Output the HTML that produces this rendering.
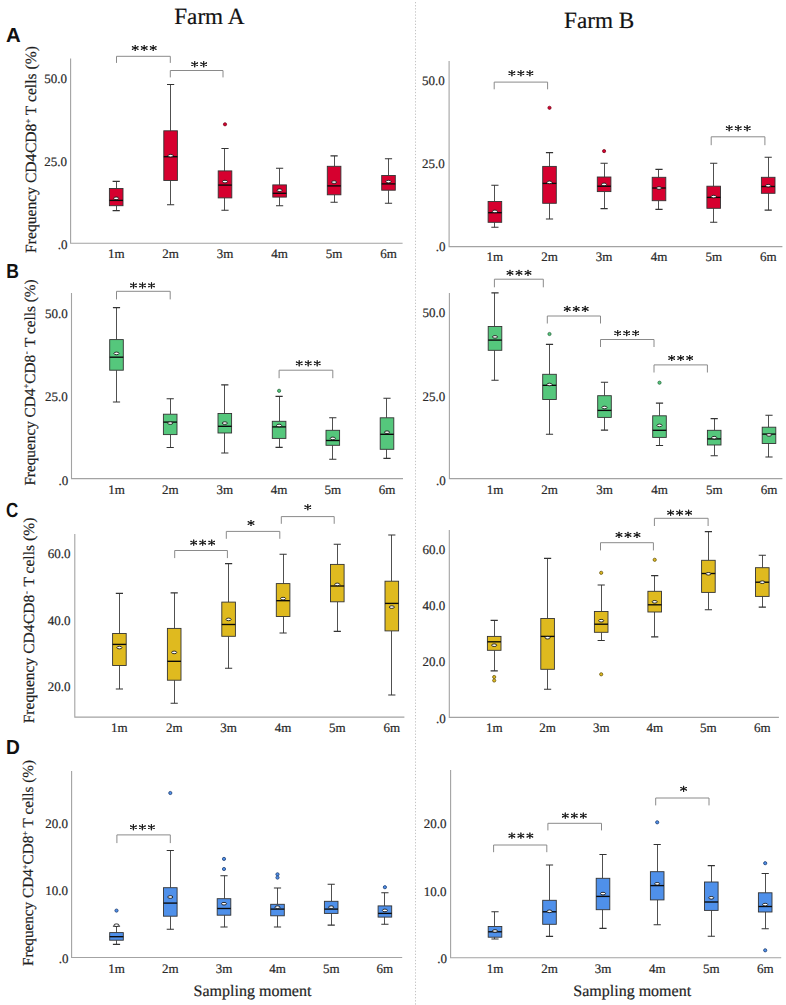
<!DOCTYPE html>
<html><head><meta charset="utf-8"><title>Figure</title>
<style>
html,body{margin:0;padding:0;background:#fff;}
body{width:786px;height:1005px;overflow:hidden;}
svg{display:block;}
text{font-family:"Liberation Serif", serif;fill:#222;stroke:#222;stroke-width:0.2px;text-rendering:geometricPrecision;}
.ax{fill:none;stroke:#a3a3a3;stroke-width:1.1;}
.tk{font-size:13px;text-anchor:end;fill:#2a2a2a;}
.xl{font-size:13px;text-anchor:middle;fill:#2a2a2a;}
.wh{fill:none;stroke:#505050;stroke-width:1;}
.cp{fill:none;stroke:#333;stroke-width:1.1;}
.bx{stroke:#333;stroke-width:0.9;}
.md{stroke:#0a0a0a;stroke-width:1.35;}
.mn{fill:#fff;stroke:#111;stroke-width:0.85;}
.br{fill:none;stroke:#8a8a8a;stroke-width:1;stroke-linejoin:round;}
.st{fill:none;stroke:#1a1a1a;stroke-width:1.1;stroke-linecap:round;}
.sd{fill:#1a1a1a;}
.ti{font-size:23.2px;text-anchor:middle;fill:#111;}
.lt{font-family:"Liberation Sans", sans-serif;font-weight:bold;font-size:20.4px;fill:#111;stroke:none;}
.yl{font-size:15.8px;fill:#1e1e1e;}
.sup{font-size:8.5px;}
.supz{font-size:6.5px;}
.sm{font-size:16px;text-anchor:middle;fill:#1e1e1e;}
.dv{stroke:#c4c4c4;stroke-width:1;stroke-dasharray:1.3 1.8;}
</style></head>
<body><svg width="786" height="1005" viewBox="0 0 786 1005">
<line x1="415.5" y1="2" x2="415.5" y2="1005" class="dv"/>
<text x="209.3" y="23.9" class="ti">Farm A</text>
<text x="599.2" y="27.7" class="ti">Farm B</text>
<text transform="translate(6 41.5) scale(1 1)" class="lt">A</text>
<text transform="translate(6.2 278.4) scale(0.86 1)" class="lt">B</text>
<text transform="translate(5.9 517) scale(0.83 1)" class="lt">C</text>
<text transform="translate(6.1 754.4) scale(0.94 1)" class="lt">D</text>
<text transform="translate(35.9 252.9) rotate(-90)" class="yl" style="font-size:15.6px" textLength="206.9" lengthAdjust="spacing">Frequency CD4<tspan class="supz" dy="-3.4" dx="-0.5">-</tspan><tspan dy="3.4" dx="-1.2">CD8</tspan><tspan class="sup" dy="-5.2">+</tspan><tspan dy="5.2"> T cells (%)</tspan></text>
<text transform="translate(34.5 485.6) rotate(-90)" class="yl" style="font-size:15.25px" textLength="206.2" lengthAdjust="spacing">Frequency CD4<tspan class="sup" dy="-5.2">+</tspan><tspan dy="5.2">CD8</tspan><tspan class="sup" dy="-5.2" dx="0.8">-</tspan><tspan dy="5.2" dx="0.8"> T cells (%)</tspan></text>
<text transform="translate(33.8 723.3) rotate(-90)" class="yl" style="font-size:15.45px" textLength="205.6" lengthAdjust="spacing">Frequency CD4<tspan class="supz" dy="-3.4" dx="-0.5">-</tspan><tspan dy="3.4" dx="-1.2">CD8</tspan><tspan class="sup" dy="-5.2" dx="0.8">-</tspan><tspan dy="5.2" dx="0.8"> T cells (%)</tspan></text>
<text transform="translate(32.7 966) rotate(-90)" class="yl" style="font-size:15.2px" textLength="206" lengthAdjust="spacing">Frequency CD4<tspan class="sup" dy="-5.2">+</tspan><tspan dy="5.2">CD8</tspan><tspan class="sup" dy="-5.2">+</tspan><tspan dy="5.2"> T cells (%)</tspan></text>
<path d="M70.6 58.6V243.3H402.6" class="ax"/>
<text x="67" y="82.8" class="tk">50.0</text>
<text x="67" y="166" class="tk">25.0</text>
<text x="67.6" y="248.8" class="tk">.0</text>
<text x="116.2" y="258.1" class="xl">1m</text>
<text x="170.6" y="258.1" class="xl">2m</text>
<text x="225" y="258.1" class="xl">3m</text>
<text x="279.6" y="258.1" class="xl">4m</text>
<text x="334.1" y="258.1" class="xl">5m</text>
<text x="388.5" y="258.1" class="xl">6m</text>
<path d="M116.5 181.4V188.5M116.5 205.7V210.6" class="wh"/>
<path d="M112.6 181.4H119.8M112.6 210.6H119.8" class="cp"/>
<rect x="109.4" y="188.5" width="13.6" height="17.2" fill="#d6002f" class="bx"/>
<path d="M109.4 200.4H123" class="md"/>
<ellipse cx="116.2" cy="198.3" rx="2.55" ry="1.3" class="mn"/>
<path d="M170.5 84.5V130.8M170.5 180.5V204.7" class="wh"/>
<path d="M167 84.5H174.2M167 204.7H174.2" class="cp"/>
<rect x="163.8" y="130.8" width="13.6" height="49.7" fill="#d6002f" class="bx"/>
<path d="M163.8 156.7H177.4" class="md"/>
<ellipse cx="170.6" cy="155.7" rx="2.55" ry="1.3" class="mn"/>
<path d="M224.5 148.5V170.9M224.5 197.9V210.3" class="wh"/>
<path d="M221.4 148.5H228.6M221.4 210.3H228.6" class="cp"/>
<rect x="218.2" y="170.9" width="13.6" height="27" fill="#d6002f" class="bx"/>
<path d="M218.2 185.1H231.8" class="md"/>
<ellipse cx="225" cy="181.6" rx="2.55" ry="1.3" class="mn"/>
<circle cx="225" cy="124.3" r="1.6" fill="#d6002f" stroke="#7a0a1e" stroke-width="0.8"/>
<path d="M279.5 168.3V184.9M279.5 197.1V205.8" class="wh"/>
<path d="M276 168.3H283.2M276 205.8H283.2" class="cp"/>
<rect x="272.8" y="184.9" width="13.6" height="12.2" fill="#d6002f" class="bx"/>
<path d="M272.8 193.3H286.4" class="md"/>
<ellipse cx="279.6" cy="190.2" rx="2.55" ry="1.3" class="mn"/>
<path d="M334.5 155.9V166.3M334.5 194.8V202.2" class="wh"/>
<path d="M330.5 155.9H337.7M330.5 202.2H337.7" class="cp"/>
<rect x="327.3" y="166.3" width="13.6" height="28.5" fill="#d6002f" class="bx"/>
<path d="M327.3 185.9H340.9" class="md"/>
<ellipse cx="334.1" cy="182.1" rx="2.55" ry="1.3" class="mn"/>
<path d="M388.5 158.7V175.5M388.5 190.2V203.2" class="wh"/>
<path d="M384.9 158.7H392.1M384.9 203.2H392.1" class="cp"/>
<rect x="381.7" y="175.5" width="13.6" height="14.7" fill="#d6002f" class="bx"/>
<path d="M381.7 183.9H395.3" class="md"/>
<ellipse cx="388.5" cy="181.6" rx="2.55" ry="1.3" class="mn"/>
<path d="M116.5 62.9V56.3H170.3V62.9" class="br"/>
<path d="M135.2 45.5L135.2 50.5M132.45 46.7L137.95 49.3M137.95 46.7L132.45 49.3M144.2 45.5L144.2 50.5M141.45 46.7L146.95 49.3M146.95 46.7L141.45 49.3M153.2 45.5L153.2 50.5M150.45 46.7L155.95 49.3M155.95 46.7L150.45 49.3" class="st"/>
<circle cx="135.2" cy="48" r="0.7" class="sd"/>
<circle cx="144.2" cy="48" r="0.7" class="sd"/>
<circle cx="153.2" cy="48" r="0.7" class="sd"/>
<circle cx="135.2" cy="45.5" r="0.62" class="sd"/>
<circle cx="135.2" cy="50.5" r="0.62" class="sd"/>
<circle cx="132.45" cy="46.7" r="0.62" class="sd"/>
<circle cx="137.95" cy="49.3" r="0.62" class="sd"/>
<circle cx="137.95" cy="46.7" r="0.62" class="sd"/>
<circle cx="132.45" cy="49.3" r="0.62" class="sd"/>
<circle cx="144.2" cy="45.5" r="0.62" class="sd"/>
<circle cx="144.2" cy="50.5" r="0.62" class="sd"/>
<circle cx="141.45" cy="46.7" r="0.62" class="sd"/>
<circle cx="146.95" cy="49.3" r="0.62" class="sd"/>
<circle cx="146.95" cy="46.7" r="0.62" class="sd"/>
<circle cx="141.45" cy="49.3" r="0.62" class="sd"/>
<circle cx="153.2" cy="45.5" r="0.62" class="sd"/>
<circle cx="153.2" cy="50.5" r="0.62" class="sd"/>
<circle cx="150.45" cy="46.7" r="0.62" class="sd"/>
<circle cx="155.95" cy="49.3" r="0.62" class="sd"/>
<circle cx="155.95" cy="46.7" r="0.62" class="sd"/>
<circle cx="150.45" cy="49.3" r="0.62" class="sd"/>
<path d="M170.3 77.4V70.5H223V77.4" class="br"/>
<path d="M194.7 61.7L194.7 66.7M191.95 62.9L197.45 65.5M197.45 62.9L191.95 65.5M203.7 61.7L203.7 66.7M200.95 62.9L206.45 65.5M206.45 62.9L200.95 65.5" class="st"/>
<circle cx="194.7" cy="64.2" r="0.7" class="sd"/>
<circle cx="203.7" cy="64.2" r="0.7" class="sd"/>
<circle cx="194.7" cy="61.7" r="0.62" class="sd"/>
<circle cx="194.7" cy="66.7" r="0.62" class="sd"/>
<circle cx="191.95" cy="62.9" r="0.62" class="sd"/>
<circle cx="197.45" cy="65.5" r="0.62" class="sd"/>
<circle cx="197.45" cy="62.9" r="0.62" class="sd"/>
<circle cx="191.95" cy="65.5" r="0.62" class="sd"/>
<circle cx="203.7" cy="61.7" r="0.62" class="sd"/>
<circle cx="203.7" cy="66.7" r="0.62" class="sd"/>
<circle cx="200.95" cy="62.9" r="0.62" class="sd"/>
<circle cx="206.45" cy="65.5" r="0.62" class="sd"/>
<circle cx="206.45" cy="62.9" r="0.62" class="sd"/>
<circle cx="200.95" cy="65.5" r="0.62" class="sd"/>
<path d="M449.1 61V246.6H782.4" class="ax"/>
<text x="444.8" y="84.8" class="tk">50.0</text>
<text x="444.8" y="168" class="tk">25.0</text>
<text x="445.4" y="251.3" class="tk">.0</text>
<text x="494.9" y="261.4" class="xl">1m</text>
<text x="549.5" y="261.4" class="xl">2m</text>
<text x="604.1" y="261.4" class="xl">3m</text>
<text x="659" y="261.4" class="xl">4m</text>
<text x="713.7" y="261.4" class="xl">5m</text>
<text x="768.2" y="261.4" class="xl">6m</text>
<path d="M494.5 185.2V201.5M494.5 222.3V227.2" class="wh"/>
<path d="M491.3 185.2H498.5M491.3 227.2H498.5" class="cp"/>
<rect x="488.1" y="201.5" width="13.6" height="20.8" fill="#d6002f" class="bx"/>
<path d="M488.1 212.7H501.7" class="md"/>
<ellipse cx="494.9" cy="211.4" rx="2.55" ry="1.3" class="mn"/>
<path d="M549.5 152.6V166.4M549.5 203.3V219" class="wh"/>
<path d="M545.9 152.6H553.1M545.9 219H553.1" class="cp"/>
<rect x="542.7" y="166.4" width="13.6" height="36.9" fill="#d6002f" class="bx"/>
<path d="M542.7 183.4H556.3" class="md"/>
<ellipse cx="549.5" cy="182.4" rx="2.55" ry="1.3" class="mn"/>
<circle cx="549.5" cy="107.8" r="1.6" fill="#d6002f" stroke="#7a0a1e" stroke-width="0.8"/>
<path d="M604.5 163.3V177M604.5 191.6V208.6" class="wh"/>
<path d="M600.5 163.3H607.7M600.5 208.6H607.7" class="cp"/>
<rect x="597.3" y="177" width="13.6" height="14.6" fill="#d6002f" class="bx"/>
<path d="M597.3 186.2H610.9" class="md"/>
<ellipse cx="604.1" cy="184.4" rx="2.55" ry="1.3" class="mn"/>
<circle cx="604.1" cy="151.1" r="1.6" fill="#d6002f" stroke="#7a0a1e" stroke-width="0.8"/>
<path d="M658.5 169.4V177.3M658.5 200.7V209.4" class="wh"/>
<path d="M655.4 169.4H662.6M655.4 209.4H662.6" class="cp"/>
<rect x="652.2" y="177.3" width="13.6" height="23.4" fill="#d6002f" class="bx"/>
<path d="M652.2 188H665.8" class="md"/>
<ellipse cx="659" cy="188" rx="2.55" ry="1.3" class="mn"/>
<path d="M713.5 163.3V186.2M713.5 208.3V222.3" class="wh"/>
<path d="M710.1 163.3H717.3M710.1 222.3H717.3" class="cp"/>
<rect x="706.9" y="186.2" width="13.6" height="22.1" fill="#d6002f" class="bx"/>
<path d="M706.9 197.4H720.5" class="md"/>
<ellipse cx="713.7" cy="196.6" rx="2.55" ry="1.3" class="mn"/>
<path d="M768.5 157.2V177.3M768.5 193.3V210.1" class="wh"/>
<path d="M764.6 157.2H771.8M764.6 210.1H771.8" class="cp"/>
<rect x="761.4" y="177.3" width="13.6" height="16" fill="#d6002f" class="bx"/>
<path d="M761.4 186.5H775" class="md"/>
<ellipse cx="768.2" cy="185.7" rx="2.55" ry="1.3" class="mn"/>
<path d="M494.2 89.3V82.1H547.6V89.3" class="br"/>
<path d="M511.9 70.7L511.9 75.7M509.15 71.9L514.65 74.5M514.65 71.9L509.15 74.5M520.9 70.7L520.9 75.7M518.15 71.9L523.65 74.5M523.65 71.9L518.15 74.5M529.9 70.7L529.9 75.7M527.15 71.9L532.65 74.5M532.65 71.9L527.15 74.5" class="st"/>
<circle cx="511.9" cy="73.2" r="0.7" class="sd"/>
<circle cx="520.9" cy="73.2" r="0.7" class="sd"/>
<circle cx="529.9" cy="73.2" r="0.7" class="sd"/>
<circle cx="511.9" cy="70.7" r="0.62" class="sd"/>
<circle cx="511.9" cy="75.7" r="0.62" class="sd"/>
<circle cx="509.15" cy="71.9" r="0.62" class="sd"/>
<circle cx="514.65" cy="74.5" r="0.62" class="sd"/>
<circle cx="514.65" cy="71.9" r="0.62" class="sd"/>
<circle cx="509.15" cy="74.5" r="0.62" class="sd"/>
<circle cx="520.9" cy="70.7" r="0.62" class="sd"/>
<circle cx="520.9" cy="75.7" r="0.62" class="sd"/>
<circle cx="518.15" cy="71.9" r="0.62" class="sd"/>
<circle cx="523.65" cy="74.5" r="0.62" class="sd"/>
<circle cx="523.65" cy="71.9" r="0.62" class="sd"/>
<circle cx="518.15" cy="74.5" r="0.62" class="sd"/>
<circle cx="529.9" cy="70.7" r="0.62" class="sd"/>
<circle cx="529.9" cy="75.7" r="0.62" class="sd"/>
<circle cx="527.15" cy="71.9" r="0.62" class="sd"/>
<circle cx="532.65" cy="74.5" r="0.62" class="sd"/>
<circle cx="532.65" cy="71.9" r="0.62" class="sd"/>
<circle cx="527.15" cy="74.5" r="0.62" class="sd"/>
<path d="M711.2 145.2V136.8H764.9V145.2" class="br"/>
<path d="M729.2 125.7L729.2 130.7M726.45 126.9L731.95 129.5M731.95 126.9L726.45 129.5M738.2 125.7L738.2 130.7M735.45 126.9L740.95 129.5M740.95 126.9L735.45 129.5M747.2 125.7L747.2 130.7M744.45 126.9L749.95 129.5M749.95 126.9L744.45 129.5" class="st"/>
<circle cx="729.2" cy="128.2" r="0.7" class="sd"/>
<circle cx="738.2" cy="128.2" r="0.7" class="sd"/>
<circle cx="747.2" cy="128.2" r="0.7" class="sd"/>
<circle cx="729.2" cy="125.7" r="0.62" class="sd"/>
<circle cx="729.2" cy="130.7" r="0.62" class="sd"/>
<circle cx="726.45" cy="126.9" r="0.62" class="sd"/>
<circle cx="731.95" cy="129.5" r="0.62" class="sd"/>
<circle cx="731.95" cy="126.9" r="0.62" class="sd"/>
<circle cx="726.45" cy="129.5" r="0.62" class="sd"/>
<circle cx="738.2" cy="125.7" r="0.62" class="sd"/>
<circle cx="738.2" cy="130.7" r="0.62" class="sd"/>
<circle cx="735.45" cy="126.9" r="0.62" class="sd"/>
<circle cx="740.95" cy="129.5" r="0.62" class="sd"/>
<circle cx="740.95" cy="126.9" r="0.62" class="sd"/>
<circle cx="735.45" cy="129.5" r="0.62" class="sd"/>
<circle cx="747.2" cy="125.7" r="0.62" class="sd"/>
<circle cx="747.2" cy="130.7" r="0.62" class="sd"/>
<circle cx="744.45" cy="126.9" r="0.62" class="sd"/>
<circle cx="749.95" cy="129.5" r="0.62" class="sd"/>
<circle cx="749.95" cy="126.9" r="0.62" class="sd"/>
<circle cx="744.45" cy="129.5" r="0.62" class="sd"/>
<path d="M71.5 293.1V478.6H403" class="ax"/>
<text x="67.7" y="317.8" class="tk">50.0</text>
<text x="67.7" y="401.2" class="tk">25.0</text>
<text x="68.3" y="484.6" class="tk">.0</text>
<text x="116.5" y="493.5" class="xl">1m</text>
<text x="170.2" y="493.5" class="xl">2m</text>
<text x="224.8" y="493.5" class="xl">3m</text>
<text x="279.1" y="493.5" class="xl">4m</text>
<text x="332.8" y="493.5" class="xl">5m</text>
<text x="387" y="493.5" class="xl">6m</text>
<path d="M116.5 307.6V339.6M116.5 370.2V402" class="wh"/>
<path d="M112.9 307.6H120.1M112.9 402H120.1" class="cp"/>
<rect x="109.7" y="339.6" width="13.6" height="30.6" fill="#55c77c" class="bx"/>
<path d="M109.7 357.2H123.3" class="md"/>
<ellipse cx="116.5" cy="353.4" rx="2.55" ry="1.3" class="mn"/>
<path d="M170.5 398.7V414.2M170.5 434.6V447.5" class="wh"/>
<path d="M166.6 398.7H173.8M166.6 447.5H173.8" class="cp"/>
<rect x="163.4" y="414.2" width="13.6" height="20.4" fill="#55c77c" class="bx"/>
<path d="M163.4 422.1H177" class="md"/>
<ellipse cx="170.2" cy="423.1" rx="2.55" ry="1.3" class="mn"/>
<path d="M224.5 384.9V413.5M224.5 433V453" class="wh"/>
<path d="M221.2 384.9H228.4M221.2 453H228.4" class="cp"/>
<rect x="218" y="413.5" width="13.6" height="19.5" fill="#55c77c" class="bx"/>
<path d="M218 426.3H231.6" class="md"/>
<ellipse cx="224.8" cy="423.1" rx="2.55" ry="1.3" class="mn"/>
<path d="M279.5 396.4V421.3M279.5 438.4V447.4" class="wh"/>
<path d="M275.5 396.4H282.7M275.5 447.4H282.7" class="cp"/>
<rect x="272.3" y="421.3" width="13.6" height="17.1" fill="#55c77c" class="bx"/>
<path d="M272.3 426.9H285.9" class="md"/>
<ellipse cx="279.1" cy="425.5" rx="2.55" ry="1.3" class="mn"/>
<circle cx="279.1" cy="390.8" r="1.6" fill="#55c77c" stroke="#2a6b40" stroke-width="0.8"/>
<path d="M332.5 417.8V430.3M332.5 445.3V459.2" class="wh"/>
<path d="M329.2 417.8H336.4M329.2 459.2H336.4" class="cp"/>
<rect x="326" y="430.3" width="13.6" height="15" fill="#55c77c" class="bx"/>
<path d="M326 440.5H339.6" class="md"/>
<ellipse cx="332.8" cy="438.4" rx="2.55" ry="1.3" class="mn"/>
<path d="M386.5 398.3V417.8M386.5 449.3V458.4" class="wh"/>
<path d="M383.4 398.3H390.6M383.4 458.4H390.6" class="cp"/>
<rect x="380.2" y="417.8" width="13.6" height="31.5" fill="#55c77c" class="bx"/>
<path d="M380.2 434.3H393.8" class="md"/>
<ellipse cx="387" cy="432.2" rx="2.55" ry="1.3" class="mn"/>
<path d="M116.5 299.4V291.3H170.2V299.4" class="br"/>
<path d="M133.5 282.9L133.5 287.9M130.75 284.1L136.25 286.7M136.25 284.1L130.75 286.7M142.5 282.9L142.5 287.9M139.75 284.1L145.25 286.7M145.25 284.1L139.75 286.7M151.5 282.9L151.5 287.9M148.75 284.1L154.25 286.7M154.25 284.1L148.75 286.7" class="st"/>
<circle cx="133.5" cy="285.4" r="0.7" class="sd"/>
<circle cx="142.5" cy="285.4" r="0.7" class="sd"/>
<circle cx="151.5" cy="285.4" r="0.7" class="sd"/>
<circle cx="133.5" cy="282.9" r="0.62" class="sd"/>
<circle cx="133.5" cy="287.9" r="0.62" class="sd"/>
<circle cx="130.75" cy="284.1" r="0.62" class="sd"/>
<circle cx="136.25" cy="286.7" r="0.62" class="sd"/>
<circle cx="136.25" cy="284.1" r="0.62" class="sd"/>
<circle cx="130.75" cy="286.7" r="0.62" class="sd"/>
<circle cx="142.5" cy="282.9" r="0.62" class="sd"/>
<circle cx="142.5" cy="287.9" r="0.62" class="sd"/>
<circle cx="139.75" cy="284.1" r="0.62" class="sd"/>
<circle cx="145.25" cy="286.7" r="0.62" class="sd"/>
<circle cx="145.25" cy="284.1" r="0.62" class="sd"/>
<circle cx="139.75" cy="286.7" r="0.62" class="sd"/>
<circle cx="151.5" cy="282.9" r="0.62" class="sd"/>
<circle cx="151.5" cy="287.9" r="0.62" class="sd"/>
<circle cx="148.75" cy="284.1" r="0.62" class="sd"/>
<circle cx="154.25" cy="286.7" r="0.62" class="sd"/>
<circle cx="154.25" cy="284.1" r="0.62" class="sd"/>
<circle cx="148.75" cy="286.7" r="0.62" class="sd"/>
<path d="M279.1 378.2V370.2H332.8V378.2" class="br"/>
<path d="M299.2 360.8L299.2 365.8M296.45 362L301.95 364.6M301.95 362L296.45 364.6M308.2 360.8L308.2 365.8M305.45 362L310.95 364.6M310.95 362L305.45 364.6M317.2 360.8L317.2 365.8M314.45 362L319.95 364.6M319.95 362L314.45 364.6" class="st"/>
<circle cx="299.2" cy="363.3" r="0.7" class="sd"/>
<circle cx="308.2" cy="363.3" r="0.7" class="sd"/>
<circle cx="317.2" cy="363.3" r="0.7" class="sd"/>
<circle cx="299.2" cy="360.8" r="0.62" class="sd"/>
<circle cx="299.2" cy="365.8" r="0.62" class="sd"/>
<circle cx="296.45" cy="362" r="0.62" class="sd"/>
<circle cx="301.95" cy="364.6" r="0.62" class="sd"/>
<circle cx="301.95" cy="362" r="0.62" class="sd"/>
<circle cx="296.45" cy="364.6" r="0.62" class="sd"/>
<circle cx="308.2" cy="360.8" r="0.62" class="sd"/>
<circle cx="308.2" cy="365.8" r="0.62" class="sd"/>
<circle cx="305.45" cy="362" r="0.62" class="sd"/>
<circle cx="310.95" cy="364.6" r="0.62" class="sd"/>
<circle cx="310.95" cy="362" r="0.62" class="sd"/>
<circle cx="305.45" cy="364.6" r="0.62" class="sd"/>
<circle cx="317.2" cy="360.8" r="0.62" class="sd"/>
<circle cx="317.2" cy="365.8" r="0.62" class="sd"/>
<circle cx="314.45" cy="362" r="0.62" class="sd"/>
<circle cx="319.95" cy="364.6" r="0.62" class="sd"/>
<circle cx="319.95" cy="362" r="0.62" class="sd"/>
<circle cx="314.45" cy="364.6" r="0.62" class="sd"/>
<path d="M449.4 292.9V478.6H782.4" class="ax"/>
<text x="445.2" y="317" class="tk">50.0</text>
<text x="445.2" y="401" class="tk">25.0</text>
<text x="445.8" y="485.2" class="tk">.0</text>
<text x="495" y="494" class="xl">1m</text>
<text x="549.5" y="494" class="xl">2m</text>
<text x="604.5" y="494" class="xl">3m</text>
<text x="659.5" y="494" class="xl">4m</text>
<text x="714.2" y="494" class="xl">5m</text>
<text x="769" y="494" class="xl">6m</text>
<path d="M494.5 292.9V326.5M494.5 350.3V380.2" class="wh"/>
<path d="M491.4 292.9H498.6M491.4 380.2H498.6" class="cp"/>
<rect x="488.2" y="326.5" width="13.6" height="23.8" fill="#55c77c" class="bx"/>
<path d="M488.2 340.1H501.8" class="md"/>
<ellipse cx="495" cy="336.9" rx="2.55" ry="1.3" class="mn"/>
<path d="M549.5 344.4V374.3M549.5 399.5V434.2" class="wh"/>
<path d="M545.9 344.4H553.1M545.9 434.2H553.1" class="cp"/>
<rect x="542.7" y="374.3" width="13.6" height="25.2" fill="#55c77c" class="bx"/>
<path d="M542.7 385.3H556.3" class="md"/>
<ellipse cx="549.5" cy="384.5" rx="2.55" ry="1.3" class="mn"/>
<circle cx="549.5" cy="334" r="1.6" fill="#55c77c" stroke="#2a6b40" stroke-width="0.8"/>
<path d="M604.5 382.3V395.7M604.5 417.4V430.1" class="wh"/>
<path d="M600.9 382.3H608.1M600.9 430.1H608.1" class="cp"/>
<rect x="597.7" y="395.7" width="13.6" height="21.7" fill="#55c77c" class="bx"/>
<path d="M597.7 410.4H611.3" class="md"/>
<ellipse cx="604.5" cy="407.5" rx="2.55" ry="1.3" class="mn"/>
<path d="M659.5 403.1V415.8M659.5 437.4V445.5" class="wh"/>
<path d="M655.9 403.1H663.1M655.9 445.5H663.1" class="cp"/>
<rect x="652.7" y="415.8" width="13.6" height="21.6" fill="#55c77c" class="bx"/>
<path d="M652.7 430.3H666.3" class="md"/>
<ellipse cx="659.5" cy="425.4" rx="2.55" ry="1.3" class="mn"/>
<circle cx="659.5" cy="382.7" r="1.6" fill="#55c77c" stroke="#2a6b40" stroke-width="0.8"/>
<path d="M714.5 418.6V430.3M714.5 445V455.7" class="wh"/>
<path d="M710.6 418.6H717.8M710.6 455.7H717.8" class="cp"/>
<rect x="707.4" y="430.3" width="13.6" height="14.7" fill="#55c77c" class="bx"/>
<path d="M707.4 438.9H721" class="md"/>
<ellipse cx="714.2" cy="437.7" rx="2.55" ry="1.3" class="mn"/>
<path d="M768.5 415.3V427.2M768.5 443.5V457" class="wh"/>
<path d="M765.4 415.3H772.6M765.4 457H772.6" class="cp"/>
<rect x="762.2" y="427.2" width="13.6" height="16.3" fill="#55c77c" class="bx"/>
<path d="M762.2 434.1H775.8" class="md"/>
<ellipse cx="769" cy="434.9" rx="2.55" ry="1.3" class="mn"/>
<path d="M494.4 287.3V279.2H543.3V287.3" class="br"/>
<path d="M510 270.3L510 275.3M507.25 271.5L512.75 274.1M512.75 271.5L507.25 274.1M519 270.3L519 275.3M516.25 271.5L521.75 274.1M521.75 271.5L516.25 274.1M528 270.3L528 275.3M525.25 271.5L530.75 274.1M530.75 271.5L525.25 274.1" class="st"/>
<circle cx="510" cy="272.8" r="0.7" class="sd"/>
<circle cx="519" cy="272.8" r="0.7" class="sd"/>
<circle cx="528" cy="272.8" r="0.7" class="sd"/>
<circle cx="510" cy="270.3" r="0.62" class="sd"/>
<circle cx="510" cy="275.3" r="0.62" class="sd"/>
<circle cx="507.25" cy="271.5" r="0.62" class="sd"/>
<circle cx="512.75" cy="274.1" r="0.62" class="sd"/>
<circle cx="512.75" cy="271.5" r="0.62" class="sd"/>
<circle cx="507.25" cy="274.1" r="0.62" class="sd"/>
<circle cx="519" cy="270.3" r="0.62" class="sd"/>
<circle cx="519" cy="275.3" r="0.62" class="sd"/>
<circle cx="516.25" cy="271.5" r="0.62" class="sd"/>
<circle cx="521.75" cy="274.1" r="0.62" class="sd"/>
<circle cx="521.75" cy="271.5" r="0.62" class="sd"/>
<circle cx="516.25" cy="274.1" r="0.62" class="sd"/>
<circle cx="528" cy="270.3" r="0.62" class="sd"/>
<circle cx="528" cy="275.3" r="0.62" class="sd"/>
<circle cx="525.25" cy="271.5" r="0.62" class="sd"/>
<circle cx="530.75" cy="274.1" r="0.62" class="sd"/>
<circle cx="530.75" cy="271.5" r="0.62" class="sd"/>
<circle cx="525.25" cy="274.1" r="0.62" class="sd"/>
<path d="M547.3 323.5V316H600.5V323.5" class="br"/>
<path d="M567.2 306.4L567.2 311.4M564.45 307.6L569.95 310.2M569.95 307.6L564.45 310.2M576.2 306.4L576.2 311.4M573.45 307.6L578.95 310.2M578.95 307.6L573.45 310.2M585.2 306.4L585.2 311.4M582.45 307.6L587.95 310.2M587.95 307.6L582.45 310.2" class="st"/>
<circle cx="567.2" cy="308.9" r="0.7" class="sd"/>
<circle cx="576.2" cy="308.9" r="0.7" class="sd"/>
<circle cx="585.2" cy="308.9" r="0.7" class="sd"/>
<circle cx="567.2" cy="306.4" r="0.62" class="sd"/>
<circle cx="567.2" cy="311.4" r="0.62" class="sd"/>
<circle cx="564.45" cy="307.6" r="0.62" class="sd"/>
<circle cx="569.95" cy="310.2" r="0.62" class="sd"/>
<circle cx="569.95" cy="307.6" r="0.62" class="sd"/>
<circle cx="564.45" cy="310.2" r="0.62" class="sd"/>
<circle cx="576.2" cy="306.4" r="0.62" class="sd"/>
<circle cx="576.2" cy="311.4" r="0.62" class="sd"/>
<circle cx="573.45" cy="307.6" r="0.62" class="sd"/>
<circle cx="578.95" cy="310.2" r="0.62" class="sd"/>
<circle cx="578.95" cy="307.6" r="0.62" class="sd"/>
<circle cx="573.45" cy="310.2" r="0.62" class="sd"/>
<circle cx="585.2" cy="306.4" r="0.62" class="sd"/>
<circle cx="585.2" cy="311.4" r="0.62" class="sd"/>
<circle cx="582.45" cy="307.6" r="0.62" class="sd"/>
<circle cx="587.95" cy="310.2" r="0.62" class="sd"/>
<circle cx="587.95" cy="307.6" r="0.62" class="sd"/>
<circle cx="582.45" cy="310.2" r="0.62" class="sd"/>
<path d="M600.5 347V339.5H654V347" class="br"/>
<path d="M617.7 330.6L617.7 335.6M614.95 331.8L620.45 334.4M620.45 331.8L614.95 334.4M626.7 330.6L626.7 335.6M623.95 331.8L629.45 334.4M629.45 331.8L623.95 334.4M635.7 330.6L635.7 335.6M632.95 331.8L638.45 334.4M638.45 331.8L632.95 334.4" class="st"/>
<circle cx="617.7" cy="333.1" r="0.7" class="sd"/>
<circle cx="626.7" cy="333.1" r="0.7" class="sd"/>
<circle cx="635.7" cy="333.1" r="0.7" class="sd"/>
<circle cx="617.7" cy="330.6" r="0.62" class="sd"/>
<circle cx="617.7" cy="335.6" r="0.62" class="sd"/>
<circle cx="614.95" cy="331.8" r="0.62" class="sd"/>
<circle cx="620.45" cy="334.4" r="0.62" class="sd"/>
<circle cx="620.45" cy="331.8" r="0.62" class="sd"/>
<circle cx="614.95" cy="334.4" r="0.62" class="sd"/>
<circle cx="626.7" cy="330.6" r="0.62" class="sd"/>
<circle cx="626.7" cy="335.6" r="0.62" class="sd"/>
<circle cx="623.95" cy="331.8" r="0.62" class="sd"/>
<circle cx="629.45" cy="334.4" r="0.62" class="sd"/>
<circle cx="629.45" cy="331.8" r="0.62" class="sd"/>
<circle cx="623.95" cy="334.4" r="0.62" class="sd"/>
<circle cx="635.7" cy="330.6" r="0.62" class="sd"/>
<circle cx="635.7" cy="335.6" r="0.62" class="sd"/>
<circle cx="632.95" cy="331.8" r="0.62" class="sd"/>
<circle cx="638.45" cy="334.4" r="0.62" class="sd"/>
<circle cx="638.45" cy="331.8" r="0.62" class="sd"/>
<circle cx="632.95" cy="334.4" r="0.62" class="sd"/>
<path d="M654 372.5V364.9H707.4V372.5" class="br"/>
<path d="M671.7 355.5L671.7 360.5M668.95 356.7L674.45 359.3M674.45 356.7L668.95 359.3M680.7 355.5L680.7 360.5M677.95 356.7L683.45 359.3M683.45 356.7L677.95 359.3M689.7 355.5L689.7 360.5M686.95 356.7L692.45 359.3M692.45 356.7L686.95 359.3" class="st"/>
<circle cx="671.7" cy="358" r="0.7" class="sd"/>
<circle cx="680.7" cy="358" r="0.7" class="sd"/>
<circle cx="689.7" cy="358" r="0.7" class="sd"/>
<circle cx="671.7" cy="355.5" r="0.62" class="sd"/>
<circle cx="671.7" cy="360.5" r="0.62" class="sd"/>
<circle cx="668.95" cy="356.7" r="0.62" class="sd"/>
<circle cx="674.45" cy="359.3" r="0.62" class="sd"/>
<circle cx="674.45" cy="356.7" r="0.62" class="sd"/>
<circle cx="668.95" cy="359.3" r="0.62" class="sd"/>
<circle cx="680.7" cy="355.5" r="0.62" class="sd"/>
<circle cx="680.7" cy="360.5" r="0.62" class="sd"/>
<circle cx="677.95" cy="356.7" r="0.62" class="sd"/>
<circle cx="683.45" cy="359.3" r="0.62" class="sd"/>
<circle cx="683.45" cy="356.7" r="0.62" class="sd"/>
<circle cx="677.95" cy="359.3" r="0.62" class="sd"/>
<circle cx="689.7" cy="355.5" r="0.62" class="sd"/>
<circle cx="689.7" cy="360.5" r="0.62" class="sd"/>
<circle cx="686.95" cy="356.7" r="0.62" class="sd"/>
<circle cx="692.45" cy="359.3" r="0.62" class="sd"/>
<circle cx="692.45" cy="356.7" r="0.62" class="sd"/>
<circle cx="686.95" cy="359.3" r="0.62" class="sd"/>
<path d="M74.8 534.1V717.1H404.4" class="ax"/>
<text x="70.5" y="558" class="tk">60.0</text>
<text x="70.5" y="624.5" class="tk">40.0</text>
<text x="70.5" y="690.8" class="tk">20.0</text>
<text x="119.4" y="732" class="xl">1m</text>
<text x="174.2" y="732" class="xl">2m</text>
<text x="228.6" y="732" class="xl">3m</text>
<text x="283.1" y="732" class="xl">4m</text>
<text x="337.3" y="732" class="xl">5m</text>
<text x="391.8" y="732" class="xl">6m</text>
<path d="M119.5 593.4V633.5M119.5 665.5V689" class="wh"/>
<path d="M115.8 593.4H123M115.8 689H123" class="cp"/>
<rect x="112.6" y="633.5" width="13.6" height="32" fill="#dfba1f" class="bx"/>
<path d="M112.6 644.4H126.2" class="md"/>
<ellipse cx="119.4" cy="647.6" rx="2.55" ry="1.3" class="mn"/>
<path d="M174.5 592.9V628.4M174.5 680.2V703.2" class="wh"/>
<path d="M170.6 592.9H177.8M170.6 703.2H177.8" class="cp"/>
<rect x="167.4" y="628.4" width="13.6" height="51.8" fill="#dfba1f" class="bx"/>
<path d="M167.4 661.3H181" class="md"/>
<ellipse cx="174.2" cy="652.4" rx="2.55" ry="1.3" class="mn"/>
<path d="M228.5 563.6V602.1M228.5 636.3V668.3" class="wh"/>
<path d="M225 563.6H232.2M225 668.3H232.2" class="cp"/>
<rect x="221.8" y="602.1" width="13.6" height="34.2" fill="#dfba1f" class="bx"/>
<path d="M221.8 624.5H235.4" class="md"/>
<ellipse cx="228.6" cy="619.4" rx="2.55" ry="1.3" class="mn"/>
<path d="M283.5 554.2V583.6M283.5 616.5V633" class="wh"/>
<path d="M279.5 554.2H286.7M279.5 633H286.7" class="cp"/>
<rect x="276.3" y="583.6" width="13.6" height="32.9" fill="#dfba1f" class="bx"/>
<path d="M276.3 600.7H289.9" class="md"/>
<ellipse cx="283.1" cy="598.6" rx="2.55" ry="1.3" class="mn"/>
<path d="M337.5 544.3V564.4M337.5 601.8V631.4" class="wh"/>
<path d="M333.7 544.3H340.9M333.7 631.4H340.9" class="cp"/>
<rect x="330.5" y="564.4" width="13.6" height="37.4" fill="#dfba1f" class="bx"/>
<path d="M330.5 586H344.1" class="md"/>
<ellipse cx="337.3" cy="584.4" rx="2.55" ry="1.3" class="mn"/>
<path d="M391.5 535V581.2M391.5 630.9V695" class="wh"/>
<path d="M388.2 535H395.4M388.2 695H395.4" class="cp"/>
<rect x="385" y="581.2" width="13.6" height="49.7" fill="#dfba1f" class="bx"/>
<path d="M385 603.4H398.6" class="md"/>
<ellipse cx="391.8" cy="607.1" rx="2.55" ry="1.3" class="mn"/>
<path d="M174.7 558.1V550.5H227.4V558.1" class="br"/>
<path d="M193.7 540.1L193.7 545.1M190.95 541.3L196.45 543.9M196.45 541.3L190.95 543.9M202.7 540.1L202.7 545.1M199.95 541.3L205.45 543.9M205.45 541.3L199.95 543.9M211.7 540.1L211.7 545.1M208.95 541.3L214.45 543.9M214.45 541.3L208.95 543.9" class="st"/>
<circle cx="193.7" cy="542.6" r="0.7" class="sd"/>
<circle cx="202.7" cy="542.6" r="0.7" class="sd"/>
<circle cx="211.7" cy="542.6" r="0.7" class="sd"/>
<circle cx="193.7" cy="540.1" r="0.62" class="sd"/>
<circle cx="193.7" cy="545.1" r="0.62" class="sd"/>
<circle cx="190.95" cy="541.3" r="0.62" class="sd"/>
<circle cx="196.45" cy="543.9" r="0.62" class="sd"/>
<circle cx="196.45" cy="541.3" r="0.62" class="sd"/>
<circle cx="190.95" cy="543.9" r="0.62" class="sd"/>
<circle cx="202.7" cy="540.1" r="0.62" class="sd"/>
<circle cx="202.7" cy="545.1" r="0.62" class="sd"/>
<circle cx="199.95" cy="541.3" r="0.62" class="sd"/>
<circle cx="205.45" cy="543.9" r="0.62" class="sd"/>
<circle cx="205.45" cy="541.3" r="0.62" class="sd"/>
<circle cx="199.95" cy="543.9" r="0.62" class="sd"/>
<circle cx="211.7" cy="540.1" r="0.62" class="sd"/>
<circle cx="211.7" cy="545.1" r="0.62" class="sd"/>
<circle cx="208.95" cy="541.3" r="0.62" class="sd"/>
<circle cx="214.45" cy="543.9" r="0.62" class="sd"/>
<circle cx="214.45" cy="541.3" r="0.62" class="sd"/>
<circle cx="208.95" cy="543.9" r="0.62" class="sd"/>
<path d="M226.3 538.8V531.4H279.8V538.8" class="br"/>
<path d="M251 520.5L251 525.5M248.25 521.7L253.75 524.3M253.75 521.7L248.25 524.3" class="st"/>
<circle cx="251" cy="523" r="0.7" class="sd"/>
<circle cx="251" cy="520.5" r="0.62" class="sd"/>
<circle cx="251" cy="525.5" r="0.62" class="sd"/>
<circle cx="248.25" cy="521.7" r="0.62" class="sd"/>
<circle cx="253.75" cy="524.3" r="0.62" class="sd"/>
<circle cx="253.75" cy="521.7" r="0.62" class="sd"/>
<circle cx="248.25" cy="524.3" r="0.62" class="sd"/>
<path d="M281.3 523.8V516.6H334.2V523.8" class="br"/>
<path d="M307.8 504.7L307.8 509.7M305.05 505.9L310.55 508.5M310.55 505.9L305.05 508.5" class="st"/>
<circle cx="307.8" cy="507.2" r="0.7" class="sd"/>
<circle cx="307.8" cy="504.7" r="0.62" class="sd"/>
<circle cx="307.8" cy="509.7" r="0.62" class="sd"/>
<circle cx="305.05" cy="505.9" r="0.62" class="sd"/>
<circle cx="310.55" cy="508.5" r="0.62" class="sd"/>
<circle cx="310.55" cy="505.9" r="0.62" class="sd"/>
<circle cx="305.05" cy="508.5" r="0.62" class="sd"/>
<path d="M449.3 530.1V717.4H778.9" class="ax"/>
<text x="445.2" y="553.7" class="tk">60.0</text>
<text x="445.2" y="610.4" class="tk">40.0</text>
<text x="445.2" y="665.9" class="tk">20.0</text>
<text x="445.8" y="722.8" class="tk">.0</text>
<text x="494.2" y="732.1" class="xl">1m</text>
<text x="547.6" y="732.1" class="xl">2m</text>
<text x="601.2" y="732.1" class="xl">3m</text>
<text x="654.7" y="732.1" class="xl">4m</text>
<text x="708.4" y="732.1" class="xl">5m</text>
<text x="762.3" y="732.1" class="xl">6m</text>
<path d="M494.5 620.4V636.4M494.5 650.3V670.9" class="wh"/>
<path d="M490.6 620.4H497.8M490.6 670.9H497.8" class="cp"/>
<rect x="487.4" y="636.4" width="13.6" height="13.9" fill="#dfba1f" class="bx"/>
<path d="M487.4 641.8H501" class="md"/>
<ellipse cx="494.2" cy="645.2" rx="2.55" ry="1.3" class="mn"/>
<circle cx="494.2" cy="677" r="1.6" fill="#dfba1f" stroke="#6b5810" stroke-width="0.8"/>
<circle cx="494.2" cy="680.5" r="1.6" fill="#dfba1f" stroke="#6b5810" stroke-width="0.8"/>
<path d="M547.5 558.4V618.5M547.5 669.3V689.3" class="wh"/>
<path d="M544 558.4H551.2M544 689.3H551.2" class="cp"/>
<rect x="540.8" y="618.5" width="13.6" height="50.8" fill="#dfba1f" class="bx"/>
<path d="M540.8 636.4H554.4" class="md"/>
<ellipse cx="547.6" cy="637.7" rx="2.55" ry="1.3" class="mn"/>
<path d="M601.5 585V611.5M601.5 632.3V640.5" class="wh"/>
<path d="M597.6 585H604.8M597.6 640.5H604.8" class="cp"/>
<rect x="594.4" y="611.5" width="13.6" height="20.8" fill="#dfba1f" class="bx"/>
<path d="M594.4 624.2H608" class="md"/>
<ellipse cx="601.2" cy="620.7" rx="2.55" ry="1.3" class="mn"/>
<circle cx="601.2" cy="572.8" r="1.6" fill="#dfba1f" stroke="#6b5810" stroke-width="0.8"/>
<circle cx="601.2" cy="674.3" r="1.6" fill="#dfba1f" stroke="#6b5810" stroke-width="0.8"/>
<path d="M654.5 575.6V591.3M654.5 612V636.9" class="wh"/>
<path d="M651.1 575.6H658.3M651.1 636.9H658.3" class="cp"/>
<rect x="647.9" y="591.3" width="13.6" height="20.7" fill="#dfba1f" class="bx"/>
<path d="M647.9 604.8H661.5" class="md"/>
<ellipse cx="654.7" cy="601.8" rx="2.55" ry="1.3" class="mn"/>
<circle cx="654.7" cy="559.8" r="1.6" fill="#dfba1f" stroke="#6b5810" stroke-width="0.8"/>
<path d="M708.5 531.6V560.3M708.5 592.4V609.7" class="wh"/>
<path d="M704.8 531.6H712M704.8 609.7H712" class="cp"/>
<rect x="701.6" y="560.3" width="13.6" height="32.1" fill="#dfba1f" class="bx"/>
<path d="M701.6 573.5H715.2" class="md"/>
<ellipse cx="708.4" cy="573.8" rx="2.55" ry="1.3" class="mn"/>
<path d="M762.5 555.2V567.7M762.5 596.4V607.1" class="wh"/>
<path d="M758.7 555.2H765.9M758.7 607.1H765.9" class="cp"/>
<rect x="755.5" y="567.7" width="13.6" height="28.7" fill="#dfba1f" class="bx"/>
<path d="M755.5 582.2H769.1" class="md"/>
<ellipse cx="762.3" cy="582.2" rx="2.55" ry="1.3" class="mn"/>
<path d="M600.5 550.4V542.7H653.4V550.4" class="br"/>
<path d="M619 532.4L619 537.4M616.25 533.6L621.75 536.2M621.75 533.6L616.25 536.2M628 532.4L628 537.4M625.25 533.6L630.75 536.2M630.75 533.6L625.25 536.2M637 532.4L637 537.4M634.25 533.6L639.75 536.2M639.75 533.6L634.25 536.2" class="st"/>
<circle cx="619" cy="534.9" r="0.7" class="sd"/>
<circle cx="628" cy="534.9" r="0.7" class="sd"/>
<circle cx="637" cy="534.9" r="0.7" class="sd"/>
<circle cx="619" cy="532.4" r="0.62" class="sd"/>
<circle cx="619" cy="537.4" r="0.62" class="sd"/>
<circle cx="616.25" cy="533.6" r="0.62" class="sd"/>
<circle cx="621.75" cy="536.2" r="0.62" class="sd"/>
<circle cx="621.75" cy="533.6" r="0.62" class="sd"/>
<circle cx="616.25" cy="536.2" r="0.62" class="sd"/>
<circle cx="628" cy="532.4" r="0.62" class="sd"/>
<circle cx="628" cy="537.4" r="0.62" class="sd"/>
<circle cx="625.25" cy="533.6" r="0.62" class="sd"/>
<circle cx="630.75" cy="536.2" r="0.62" class="sd"/>
<circle cx="630.75" cy="533.6" r="0.62" class="sd"/>
<circle cx="625.25" cy="536.2" r="0.62" class="sd"/>
<circle cx="637" cy="532.4" r="0.62" class="sd"/>
<circle cx="637" cy="537.4" r="0.62" class="sd"/>
<circle cx="634.25" cy="533.6" r="0.62" class="sd"/>
<circle cx="639.75" cy="536.2" r="0.62" class="sd"/>
<circle cx="639.75" cy="533.6" r="0.62" class="sd"/>
<circle cx="634.25" cy="536.2" r="0.62" class="sd"/>
<path d="M654.4 526V518.3H708.1V526" class="br"/>
<path d="M670.6 510.2L670.6 515.2M667.85 511.4L673.35 514M673.35 511.4L667.85 514M679.6 510.2L679.6 515.2M676.85 511.4L682.35 514M682.35 511.4L676.85 514M688.6 510.2L688.6 515.2M685.85 511.4L691.35 514M691.35 511.4L685.85 514" class="st"/>
<circle cx="670.6" cy="512.7" r="0.7" class="sd"/>
<circle cx="679.6" cy="512.7" r="0.7" class="sd"/>
<circle cx="688.6" cy="512.7" r="0.7" class="sd"/>
<circle cx="670.6" cy="510.2" r="0.62" class="sd"/>
<circle cx="670.6" cy="515.2" r="0.62" class="sd"/>
<circle cx="667.85" cy="511.4" r="0.62" class="sd"/>
<circle cx="673.35" cy="514" r="0.62" class="sd"/>
<circle cx="673.35" cy="511.4" r="0.62" class="sd"/>
<circle cx="667.85" cy="514" r="0.62" class="sd"/>
<circle cx="679.6" cy="510.2" r="0.62" class="sd"/>
<circle cx="679.6" cy="515.2" r="0.62" class="sd"/>
<circle cx="676.85" cy="511.4" r="0.62" class="sd"/>
<circle cx="682.35" cy="514" r="0.62" class="sd"/>
<circle cx="682.35" cy="511.4" r="0.62" class="sd"/>
<circle cx="676.85" cy="514" r="0.62" class="sd"/>
<circle cx="688.6" cy="510.2" r="0.62" class="sd"/>
<circle cx="688.6" cy="515.2" r="0.62" class="sd"/>
<circle cx="685.85" cy="511.4" r="0.62" class="sd"/>
<circle cx="691.35" cy="514" r="0.62" class="sd"/>
<circle cx="691.35" cy="511.4" r="0.62" class="sd"/>
<circle cx="685.85" cy="514" r="0.62" class="sd"/>
<path d="M71.6 771.1V957.5H402.2" class="ax"/>
<text x="68" y="828.2" class="tk">20.0</text>
<text x="68" y="895.3" class="tk">10.0</text>
<text x="68.6" y="963.2" class="tk">.0</text>
<text x="116.5" y="972.8" class="xl">1m</text>
<text x="170.3" y="972.8" class="xl">2m</text>
<text x="224" y="972.8" class="xl">3m</text>
<text x="277.5" y="972.8" class="xl">4m</text>
<text x="331.2" y="972.8" class="xl">5m</text>
<text x="384.9" y="972.8" class="xl">6m</text>
<path d="M116.5 926.2V932.6M116.5 940.2V944.4" class="wh"/>
<path d="M112.9 926.2H120.1M112.9 944.4H120.1" class="cp"/>
<rect x="109.7" y="932.6" width="13.6" height="7.6" fill="#4f90ea" class="bx"/>
<path d="M109.7 936.7H123.3" class="md"/>
<ellipse cx="116.5" cy="925.2" rx="2.55" ry="1.3" class="mn"/>
<circle cx="116.5" cy="910.6" r="1.6" fill="#4f90ea" stroke="#1f3f72" stroke-width="0.8"/>
<path d="M170.5 850.5V887.7M170.5 916.2V929.3" class="wh"/>
<path d="M166.7 850.5H173.9M166.7 929.3H173.9" class="cp"/>
<rect x="163.5" y="887.7" width="13.6" height="28.5" fill="#4f90ea" class="bx"/>
<path d="M163.5 903.1H177.1" class="md"/>
<ellipse cx="170.3" cy="897" rx="2.55" ry="1.3" class="mn"/>
<circle cx="170.3" cy="793" r="1.6" fill="#4f90ea" stroke="#1f3f72" stroke-width="0.8"/>
<path d="M224.5 875.7V898.7M224.5 915.2V927" class="wh"/>
<path d="M220.4 875.7H227.6M220.4 927H227.6" class="cp"/>
<rect x="217.2" y="898.7" width="13.6" height="16.5" fill="#4f90ea" class="bx"/>
<path d="M217.2 908.5H230.8" class="md"/>
<ellipse cx="224" cy="903.7" rx="2.55" ry="1.3" class="mn"/>
<circle cx="224" cy="858.9" r="1.6" fill="#4f90ea" stroke="#1f3f72" stroke-width="0.8"/>
<circle cx="224" cy="869" r="1.6" fill="#4f90ea" stroke="#1f3f72" stroke-width="0.8"/>
<path d="M277.5 888V904.3M277.5 915.8V927" class="wh"/>
<path d="M273.9 888H281.1M273.9 927H281.1" class="cp"/>
<rect x="270.7" y="904.3" width="13.6" height="11.5" fill="#4f90ea" class="bx"/>
<path d="M270.7 909.1H284.3" class="md"/>
<ellipse cx="277.5" cy="907.2" rx="2.55" ry="1.3" class="mn"/>
<circle cx="277.5" cy="874.3" r="1.6" fill="#4f90ea" stroke="#1f3f72" stroke-width="0.8"/>
<circle cx="277.5" cy="877.6" r="1.6" fill="#4f90ea" stroke="#1f3f72" stroke-width="0.8"/>
<path d="M331.5 884.2V901.3M331.5 913.4V925.1" class="wh"/>
<path d="M327.6 884.2H334.8M327.6 925.1H334.8" class="cp"/>
<rect x="324.4" y="901.3" width="13.6" height="12.1" fill="#4f90ea" class="bx"/>
<path d="M324.4 909.1H338" class="md"/>
<ellipse cx="331.2" cy="907.2" rx="2.55" ry="1.3" class="mn"/>
<path d="M384.5 892.8V905.9M384.5 917.1V924.3" class="wh"/>
<path d="M381.3 892.8H388.5M381.3 924.3H388.5" class="cp"/>
<rect x="378.1" y="905.9" width="13.6" height="11.2" fill="#4f90ea" class="bx"/>
<path d="M378.1 913.4H391.7" class="md"/>
<ellipse cx="384.9" cy="910.4" rx="2.55" ry="1.3" class="mn"/>
<circle cx="384.9" cy="887.2" r="1.6" fill="#4f90ea" stroke="#1f3f72" stroke-width="0.8"/>
<path d="M116.9 843.1V834.9H170.3V843.1" class="br"/>
<path d="M133.4 824.7L133.4 829.7M130.65 825.9L136.15 828.5M136.15 825.9L130.65 828.5M142.4 824.7L142.4 829.7M139.65 825.9L145.15 828.5M145.15 825.9L139.65 828.5M151.4 824.7L151.4 829.7M148.65 825.9L154.15 828.5M154.15 825.9L148.65 828.5" class="st"/>
<circle cx="133.4" cy="827.2" r="0.7" class="sd"/>
<circle cx="142.4" cy="827.2" r="0.7" class="sd"/>
<circle cx="151.4" cy="827.2" r="0.7" class="sd"/>
<circle cx="133.4" cy="824.7" r="0.62" class="sd"/>
<circle cx="133.4" cy="829.7" r="0.62" class="sd"/>
<circle cx="130.65" cy="825.9" r="0.62" class="sd"/>
<circle cx="136.15" cy="828.5" r="0.62" class="sd"/>
<circle cx="136.15" cy="825.9" r="0.62" class="sd"/>
<circle cx="130.65" cy="828.5" r="0.62" class="sd"/>
<circle cx="142.4" cy="824.7" r="0.62" class="sd"/>
<circle cx="142.4" cy="829.7" r="0.62" class="sd"/>
<circle cx="139.65" cy="825.9" r="0.62" class="sd"/>
<circle cx="145.15" cy="828.5" r="0.62" class="sd"/>
<circle cx="145.15" cy="825.9" r="0.62" class="sd"/>
<circle cx="139.65" cy="828.5" r="0.62" class="sd"/>
<circle cx="151.4" cy="824.7" r="0.62" class="sd"/>
<circle cx="151.4" cy="829.7" r="0.62" class="sd"/>
<circle cx="148.65" cy="825.9" r="0.62" class="sd"/>
<circle cx="154.15" cy="828.5" r="0.62" class="sd"/>
<circle cx="154.15" cy="825.9" r="0.62" class="sd"/>
<circle cx="148.65" cy="828.5" r="0.62" class="sd"/>
<path d="M450.6 769.9V957.7H781.2" class="ax"/>
<text x="446.5" y="827.7" class="tk">20.0</text>
<text x="446.5" y="895.8" class="tk">10.0</text>
<text x="447.1" y="963.4" class="tk">.0</text>
<text x="495" y="972.7" class="xl">1m</text>
<text x="549.5" y="972.7" class="xl">2m</text>
<text x="603" y="972.7" class="xl">3m</text>
<text x="657.2" y="972.7" class="xl">4m</text>
<text x="711.3" y="972.7" class="xl">5m</text>
<text x="765.2" y="972.7" class="xl">6m</text>
<path d="M494.5 911.8V926.5M494.5 937.2V939" class="wh"/>
<path d="M491.4 911.8H498.6M491.4 939H498.6" class="cp"/>
<rect x="488.2" y="926.5" width="13.6" height="10.7" fill="#4f90ea" class="bx"/>
<path d="M488.2 931.8H501.8" class="md"/>
<ellipse cx="495" cy="931" rx="2.55" ry="1.3" class="mn"/>
<path d="M549.5 865V900.3M549.5 924.3V936.4" class="wh"/>
<path d="M545.9 865H553.1M545.9 936.4H553.1" class="cp"/>
<rect x="542.7" y="900.3" width="13.6" height="24" fill="#4f90ea" class="bx"/>
<path d="M542.7 911.8H556.3" class="md"/>
<ellipse cx="549.5" cy="911.3" rx="2.55" ry="1.3" class="mn"/>
<path d="M602.5 854.5V878.3M602.5 909.7V928.4" class="wh"/>
<path d="M599.4 854.5H606.6M599.4 928.4H606.6" class="cp"/>
<rect x="596.2" y="878.3" width="13.6" height="31.4" fill="#4f90ea" class="bx"/>
<path d="M596.2 896.4H609.8" class="md"/>
<ellipse cx="603" cy="893.6" rx="2.55" ry="1.3" class="mn"/>
<path d="M657.5 844.5V871.7M657.5 899.9V924.7" class="wh"/>
<path d="M653.6 844.5H660.8M653.6 924.7H660.8" class="cp"/>
<rect x="650.4" y="871.7" width="13.6" height="28.2" fill="#4f90ea" class="bx"/>
<path d="M650.4 885.6H664" class="md"/>
<ellipse cx="657.2" cy="883.8" rx="2.55" ry="1.3" class="mn"/>
<circle cx="657.2" cy="822.3" r="1.6" fill="#4f90ea" stroke="#1f3f72" stroke-width="0.8"/>
<path d="M711.5 865.6V882M711.5 910.4V936.3" class="wh"/>
<path d="M707.7 865.6H714.9M707.7 936.3H714.9" class="cp"/>
<rect x="704.5" y="882" width="13.6" height="28.4" fill="#4f90ea" class="bx"/>
<path d="M704.5 902H718.1" class="md"/>
<ellipse cx="711.3" cy="897.8" rx="2.55" ry="1.3" class="mn"/>
<path d="M765.5 873.5V892.8M765.5 912V928.7" class="wh"/>
<path d="M761.6 873.5H768.8M761.6 928.7H768.8" class="cp"/>
<rect x="758.4" y="892.8" width="13.6" height="19.2" fill="#4f90ea" class="bx"/>
<path d="M758.4 906.5H772" class="md"/>
<ellipse cx="765.2" cy="904.6" rx="2.55" ry="1.3" class="mn"/>
<circle cx="765.2" cy="863.2" r="1.6" fill="#4f90ea" stroke="#1f3f72" stroke-width="0.8"/>
<circle cx="765.2" cy="950.3" r="1.6" fill="#4f90ea" stroke="#1f3f72" stroke-width="0.8"/>
<path d="M493.6 852.2V845H546.8V852.2" class="br"/>
<path d="M511.9 833.1L511.9 838.1M509.15 834.3L514.65 836.9M514.65 834.3L509.15 836.9M520.9 833.1L520.9 838.1M518.15 834.3L523.65 836.9M523.65 834.3L518.15 836.9M529.9 833.1L529.9 838.1M527.15 834.3L532.65 836.9M532.65 834.3L527.15 836.9" class="st"/>
<circle cx="511.9" cy="835.6" r="0.7" class="sd"/>
<circle cx="520.9" cy="835.6" r="0.7" class="sd"/>
<circle cx="529.9" cy="835.6" r="0.7" class="sd"/>
<circle cx="511.9" cy="833.1" r="0.62" class="sd"/>
<circle cx="511.9" cy="838.1" r="0.62" class="sd"/>
<circle cx="509.15" cy="834.3" r="0.62" class="sd"/>
<circle cx="514.65" cy="836.9" r="0.62" class="sd"/>
<circle cx="514.65" cy="834.3" r="0.62" class="sd"/>
<circle cx="509.15" cy="836.9" r="0.62" class="sd"/>
<circle cx="520.9" cy="833.1" r="0.62" class="sd"/>
<circle cx="520.9" cy="838.1" r="0.62" class="sd"/>
<circle cx="518.15" cy="834.3" r="0.62" class="sd"/>
<circle cx="523.65" cy="836.9" r="0.62" class="sd"/>
<circle cx="523.65" cy="834.3" r="0.62" class="sd"/>
<circle cx="518.15" cy="836.9" r="0.62" class="sd"/>
<circle cx="529.9" cy="833.1" r="0.62" class="sd"/>
<circle cx="529.9" cy="838.1" r="0.62" class="sd"/>
<circle cx="527.15" cy="834.3" r="0.62" class="sd"/>
<circle cx="532.65" cy="836.9" r="0.62" class="sd"/>
<circle cx="532.65" cy="834.3" r="0.62" class="sd"/>
<circle cx="527.15" cy="836.9" r="0.62" class="sd"/>
<path d="M547.9 830.4V823.3H601.5V830.4" class="br"/>
<path d="M565.3 813.1L565.3 818.1M562.55 814.3L568.05 816.9M568.05 814.3L562.55 816.9M574.3 813.1L574.3 818.1M571.55 814.3L577.05 816.9M577.05 814.3L571.55 816.9M583.3 813.1L583.3 818.1M580.55 814.3L586.05 816.9M586.05 814.3L580.55 816.9" class="st"/>
<circle cx="565.3" cy="815.6" r="0.7" class="sd"/>
<circle cx="574.3" cy="815.6" r="0.7" class="sd"/>
<circle cx="583.3" cy="815.6" r="0.7" class="sd"/>
<circle cx="565.3" cy="813.1" r="0.62" class="sd"/>
<circle cx="565.3" cy="818.1" r="0.62" class="sd"/>
<circle cx="562.55" cy="814.3" r="0.62" class="sd"/>
<circle cx="568.05" cy="816.9" r="0.62" class="sd"/>
<circle cx="568.05" cy="814.3" r="0.62" class="sd"/>
<circle cx="562.55" cy="816.9" r="0.62" class="sd"/>
<circle cx="574.3" cy="813.1" r="0.62" class="sd"/>
<circle cx="574.3" cy="818.1" r="0.62" class="sd"/>
<circle cx="571.55" cy="814.3" r="0.62" class="sd"/>
<circle cx="577.05" cy="816.9" r="0.62" class="sd"/>
<circle cx="577.05" cy="814.3" r="0.62" class="sd"/>
<circle cx="571.55" cy="816.9" r="0.62" class="sd"/>
<circle cx="583.3" cy="813.1" r="0.62" class="sd"/>
<circle cx="583.3" cy="818.1" r="0.62" class="sd"/>
<circle cx="580.55" cy="814.3" r="0.62" class="sd"/>
<circle cx="586.05" cy="816.9" r="0.62" class="sd"/>
<circle cx="586.05" cy="814.3" r="0.62" class="sd"/>
<circle cx="580.55" cy="816.9" r="0.62" class="sd"/>
<path d="M655.7 805.4V798H709V805.4" class="br"/>
<path d="M683.6 786.3L683.6 791.3M680.85 787.5L686.35 790.1M686.35 787.5L680.85 790.1" class="st"/>
<circle cx="683.6" cy="788.8" r="0.7" class="sd"/>
<circle cx="683.6" cy="786.3" r="0.62" class="sd"/>
<circle cx="683.6" cy="791.3" r="0.62" class="sd"/>
<circle cx="680.85" cy="787.5" r="0.62" class="sd"/>
<circle cx="686.35" cy="790.1" r="0.62" class="sd"/>
<circle cx="686.35" cy="787.5" r="0.62" class="sd"/>
<circle cx="680.85" cy="790.1" r="0.62" class="sd"/>
<text x="252.5" y="996.4" class="sm">Sampling moment</text>
<text x="632.2" y="996.2" class="sm">Sampling moment</text>
</svg></body></html>
